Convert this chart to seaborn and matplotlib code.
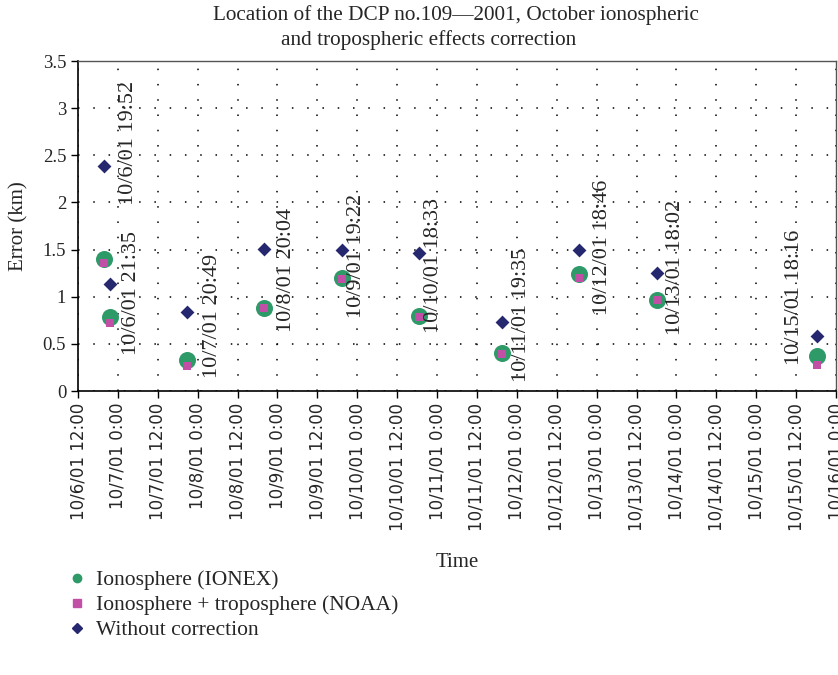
import numpy as np
import pandas as pd
import matplotlib
matplotlib.use("Agg")
import matplotlib.pyplot as plt
import matplotlib.dates as mdates
from matplotlib.lines import Line2D
import seaborn as sns

# ---- data ----
times = ["2001-10-06 19:52", "2001-10-06 21:35", "2001-10-07 20:49", "2001-10-08 20:04",
         "2001-10-09 19:22", "2001-10-10 18:33", "2001-10-11 19:35", "2001-10-12 18:46",
         "2001-10-13 18:02", "2001-10-15 18:16"]
labels = ["10/6/01 19:52", "10/6/01 21:35", "10/7/01 20:49", "10/8/01 20:04",
          "10/9/01 19:22", "10/10/01 18:33", "10/11/01 19:35", "10/12/01 18:46",
          "10/13/01 18:02", "10/15/01 18:16"]
ionex = [1.40, 0.78, 0.33, 0.885, 1.20, 0.795, 0.40, 1.24, 0.97, 0.375]
noaa = [1.355, 0.72, 0.27, 0.88, 1.19, 0.79, 0.39, 1.195, 0.965, 0.275]
nocorr = [2.39, 1.135, 0.84, 1.51, 1.50, 1.46, 0.735, 1.50, 1.25, 0.585]
series_names = ["Ionosphere (IONEX)", "Ionosphere + troposphere (NOAA)", "Without correction"]
yticks = [0, 0.5, 1, 1.5, 2, 2.5, 3, 3.5]
ytick_labels = ["0", "0.5", "1", "1.5", "2", "2.5", "3", "3.5"]

# label placement (offset in pixels from the diamond, label bottom in data units)
label_dx = [24, 22, 25, 22, 15, 15, 19, 23, 19, -22]
label_bottom = [1.97, 0.38, 0.14, 0.63, 0.77, 0.62, 0.10, 0.81, 0.59, 0.28]

t = pd.to_datetime(times)
df = pd.DataFrame({"time": list(t) * 3,
                   "err": ionex + noaa + nocorr,
                   "series": [series_names[0]] * len(t) + [series_names[1]] * len(t) + [series_names[2]] * len(t)})

sns.set_style("white")
plt.rcParams["font.family"] = ["Liberation Serif", "DejaVu Serif"]

fig = plt.figure(figsize=(8.38, 6.75), dpi=100)
ax = fig.add_axes([78 / 838, 1 - 391 / 675, (836 - 78) / 838, (391 - 61) / 675])

colors = {series_names[0]: "#2e9a68", series_names[1]: "#c24fa6", series_names[2]: "#26286f"}
markers = {series_names[0]: "o", series_names[1]: "s", series_names[2]: "D"}
sizes = {series_names[0]: 150, series_names[1]: 38, series_names[2]: 50}
for name in series_names:
    sub = df[df["series"] == name]
    sns.scatterplot(data=sub, x="time", y="err", ax=ax, color=colors[name],
                    marker=markers[name], s=sizes[name], linewidth=0, legend=False, zorder=3)

# x axis
start = pd.Timestamp("2001-10-06 12:00")
end = pd.Timestamp("2001-10-16 00:00")
xt = pd.date_range(start, end, freq="12h")
ax.set_xlim(start, end)
ax.set_xticks(xt)
ax.set_xticklabels([f"{d.month}/{d.day}/{d.strftime('%y')} {d.hour}:{d.minute:02d}" for d in xt],
                   rotation=90, family=["DejaVu Sans"], fontsize=12)
ax.set_ylim(0, 3.5)
ax.set_yticks(yticks)
ax.set_yticklabels(ytick_labels, fontsize=13.5)

ax.grid(True, color="black", linestyle=(0, (1, 9)), linewidth=1.1)
ax.set_axisbelow(True)
for s in ["left", "bottom"]:
    ax.spines[s].set_color("black")
    ax.spines[s].set_linewidth(1.2)
for s in ["top", "right"]:
    ax.spines[s].set_color("#555555")
    ax.spines[s].set_linewidth(1.0)
ax.tick_params(axis="both", direction="out", length=5, width=1, color="black", bottom=True, left=True)

ax.set_xlabel("Time", fontsize=15, labelpad=16)
ax.set_ylabel("Error (km)", fontsize=15, labelpad=10)

# annotations
for ti, lab, dx, yb in zip(t, labels, label_dx, label_bottom):
    ax.annotate(lab, xy=(ti, yb), xytext=(dx * 0.72, 0), textcoords="offset points",
                rotation=90, ha="center", va="bottom", fontsize=16, zorder=4)

# title
fig.text(456 / 838, 1 - 15 / 675, "Location of the DCP no.109\u20142001, October ionospheric",
         ha="center", va="center", fontsize=15.3)
fig.text(429 / 838, 1 - 40 / 675, "and tropospheric effects correction",
         ha="center", va="center", fontsize=15.3)

# legend
handles = [Line2D([], [], linestyle="none", marker=markers[n], color=colors[n],
                  markersize={0: 6, 1: 6, 2: 5}[i]) for i, n in enumerate(series_names)]
fig.legend(handles, series_names, loc="upper left", bbox_to_anchor=(41 / 838, 1 - 551 / 675),
           frameon=False, fontsize=15.5, handletextpad=0.15, labelspacing=0.22, handlelength=1.5)

fig.savefig("out.png", dpi=100)
